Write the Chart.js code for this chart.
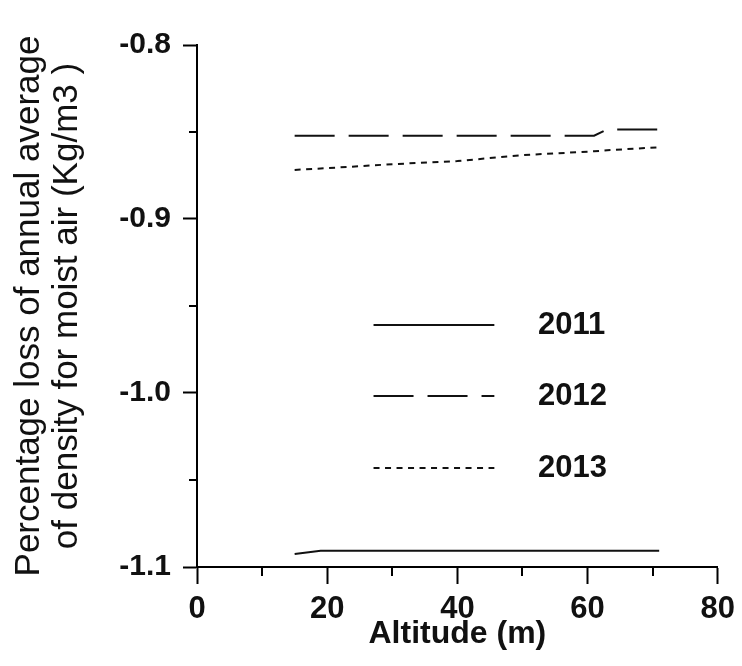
<!DOCTYPE html>
<html>
<head>
<meta charset="utf-8">
<script src="https://cdn.jsdelivr.net/npm/chart.js@4/dist/chart.umd.min.js"></script>
<style>
html,body{margin:0;padding:0;background:#fff;}
#wrap{width:742px;height:666px;}
</style>
</head>
<body>
<div id="wrap"><canvas id="c" width="742" height="666"></canvas></div>
<script>
// ---- data ----
const altitudes   = [15, 19, 30, 40, 50, 61, 63, 71];
const series2011  = [-1.0925, -1.0906, -1.0906, -1.0906, -1.0906, -1.0906, -1.0906, -1.0906];
const series2012  = [-0.8521, -0.8521, -0.8521, -0.8521, -0.8521, -0.8521, -0.8485, -0.8485];
const series2013  = [-0.8718, -0.8710, -0.8685, -0.8667, -0.8633, -0.8611, -0.8605, -0.8588];
const seriesLabels = ['2011', '2012', '2013'];
const xTicks      = [0, 20, 40, 60, 80];
const xMinorTicks = [10, 30, 50, 70];
const yTicks      = [-1.1, -1.0, -0.9, -0.8];
const yMinorTicks = [-1.05, -0.95, -0.85];
const xTitle = 'Altitude (m)';
const yTitle = ['Percentage loss of annual average', 'of density for moist air (Kg/m3 )'];

const FAMILY = '"Liberation Sans", Arial, Helvetica, sans-serif';
const toXY = (ys) => altitudes.map((a, i) => ({x: a, y: ys[i]}));

const minorTickPlugin = {
  id: 'minorTicks',
  afterDraw(chart) {
    const ctx = chart.ctx, xs = chart.scales.x, ys = chart.scales.y;
    ctx.save();
    ctx.strokeStyle = '#000';
    ctx.lineWidth = 2;
    ctx.beginPath();
    xMinorTicks.forEach(v => {
      const px = Math.round(xs.getPixelForValue(v));
      ctx.moveTo(px, xs.top); ctx.lineTo(px, xs.top + 9);
    });
    yMinorTicks.forEach(v => {
      const py = Math.round(ys.getPixelForValue(v));
      ctx.moveTo(ys.right, py); ctx.lineTo(ys.right - 8, py);
    });
    ctx.stroke();
    ctx.restore();
  }
};

const inlineLegendPlugin = {
  id: 'inlineLegend',
  afterDraw(chart) {
    const ctx = chart.ctx, a = chart.chartArea;
    const w = a.right - a.left, h = a.bottom - a.top;
    chart.data.datasets.forEach((ds, i) => {
      const y = Math.round(a.top + h * (0.536 + i * 0.137));
      const x1 = a.left + w * 0.339, x2 = a.left + w * 0.571;
      ctx.save();
      ctx.strokeStyle = ds.borderColor;
      ctx.lineWidth = ds.borderWidth;
      ctx.setLineDash(ds.borderDash || []);
      ctx.beginPath();
      ctx.moveTo(x1, y); ctx.lineTo(x2, y);
      ctx.stroke();
      ctx.setLineDash([]);
      ctx.fillStyle = '#111';
      ctx.font = 'bold 31px ' + FAMILY;
      ctx.textBaseline = 'middle';
      ctx.textAlign = 'left';
      ctx.fillText(ds.label, a.left + w * 0.655, y);
      ctx.restore();
    });
  }
};

const lineStyle = {borderColor: '#111', borderWidth: 2, pointRadius: 0, tension: 0, fill: false, borderCapStyle: 'butt'};

new Chart(document.getElementById('c'), {
  type: 'line',
  data: {
    datasets: [
      Object.assign({label: seriesLabels[0], data: toXY(series2011), borderDash: []}, lineStyle),
      Object.assign({label: seriesLabels[1], data: toXY(series2012), borderDash: [40, 14]}, lineStyle),
      Object.assign({label: seriesLabels[2], data: toXY(series2013), borderDash: [6, 5.5]}, lineStyle)
    ]
  },
  options: {
    responsive: false,
    devicePixelRatio: 1,
    animation: false,
    layout: {padding: {top: 45, right: 20, left: 0, bottom: 0}},
    plugins: {legend: {display: false}, tooltip: {enabled: false}},
    scales: {
      x: {
        type: 'linear', min: 0, max: 80,
        afterBuildTicks: s => { s.ticks = xTicks.map(v => ({value: v})); },
        afterFit: s => { s.height = 99; },
        grid: {display: true, drawOnChartArea: false, drawTicks: true, tickLength: 17, tickWidth: 2, tickColor: '#000'},
        border: {display: true, width: 2, color: '#000'},
        ticks: {color: '#111', padding: 7, autoSkip: false, maxRotation: 0,
                font: {family: FAMILY, size: 31, weight: 'bold'},
                callback: v => String(v)},
        title: {display: true, text: xTitle, color: '#111',
                font: {family: FAMILY, size: 32, weight: 'bold'},
                padding: {top: 0, bottom: 13}}
      },
      y: {
        type: 'linear', min: -1.1, max: -0.8,
        afterBuildTicks: s => { s.ticks = yTicks.map(v => ({value: v})); },
        afterFit: s => { s.width = 197; },
        grid: {display: true, drawOnChartArea: false, drawTicks: true, tickLength: 14, tickWidth: 2, tickColor: '#000'},
        border: {display: true, width: 2, color: '#000'},
        ticks: {color: '#111', padding: 12, autoSkip: false,
                font: {family: FAMILY, size: 30, weight: 'bold'},
                callback: v => Number(v).toFixed(1)},
        title: {display: true, text: yTitle, color: '#111',
                font: {family: FAMILY, size: 35, weight: 'normal', lineHeight: 1.1},
                padding: {top: 10, bottom: 0}}
      }
    }
  },
  plugins: [minorTickPlugin, inlineLegendPlugin]
});
</script>
</body>
</html>
